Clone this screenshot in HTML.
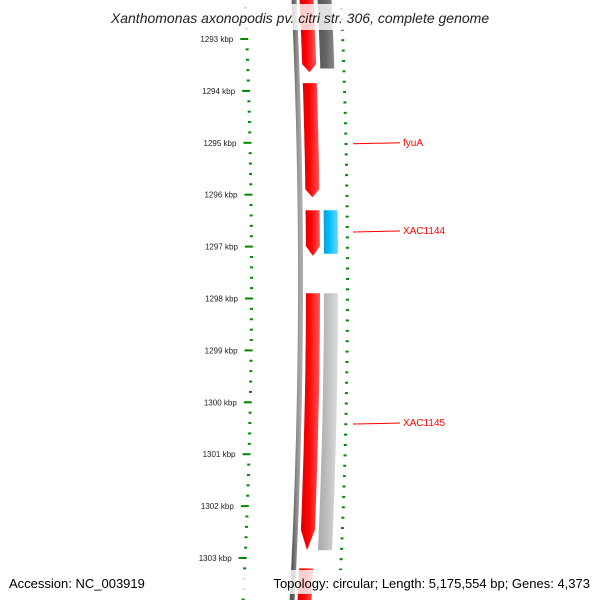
<!DOCTYPE html>
<html><head><meta charset="utf-8"><style>
html,body{margin:0;padding:0;background:#fff}
svg{display:block}
text{font-family:"Liberation Sans","DejaVu Sans",sans-serif}
</style></head><body>
<svg id="map" width="600" height="600" viewBox="0 0 600 600" xmlns="http://www.w3.org/2000/svg">
<defs>
<linearGradient id="gRed" x1="0" x2="1"><stop offset="0" stop-color="#d00"/><stop offset="0.4" stop-color="#f00"/><stop offset="1" stop-color="#ff5a5a"/></linearGradient>
<linearGradient id="gDark" x1="0" x2="1"><stop offset="0" stop-color="#555"/><stop offset="0.5" stop-color="#666"/><stop offset="1" stop-color="#888"/></linearGradient>
<linearGradient id="gLight" x1="0" x2="1"><stop offset="0" stop-color="#aaa"/><stop offset="0.5" stop-color="#c0c0c0"/><stop offset="1" stop-color="#ddd"/></linearGradient>
<linearGradient id="gBlue" x1="0" x2="1"><stop offset="0" stop-color="#0aa0d8"/><stop offset="0.4" stop-color="#00bfff"/><stop offset="1" stop-color="#66d8ff"/></linearGradient>
<linearGradient id="gBack" x1="0" x2="1"><stop offset="0" stop-color="#555"/><stop offset="0.5" stop-color="#888"/><stop offset="1" stop-color="#aaa"/></linearGradient>
</defs>
<g id="ticks"></g>
<path id="backbone" fill="none" stroke="url(#gBack)" stroke-width="5"/>
<g id="features"></g>
<g id="labels"></g>
<rect x="0" y="4" width="600" height="26" fill="#fff" fill-opacity="0.8"/>
<text x="300" y="23" text-anchor="middle" font-size="14" font-style="italic" fill="#222">Xanthomonas axonopodis pv. citri str. 306, complete genome</text>
<rect x="0" y="570" width="600" height="24" fill="#fff" fill-opacity="0.8"/>
<text x="9" y="588" font-size="13" fill="#000">Accession: NC_003919</text>
<text x="590" y="588" text-anchor="end" font-size="13" fill="#000">Topology: circular; Length: 5,175,554 bp; Genes: 4,373</text>
</svg>
<script>
const tickKbp=[1293,1294,1295,1296,1297,1298,1299,1300,1301,1302,1303];
const tickLabels=["1293 kbp","1294 kbp","1295 kbp","1296 kbp","1297 kbp","1298 kbp","1299 kbp","1300 kbp","1301 kbp","1302 kbp","1303 kbp"];
const featStart=[1292.2,1293.85,1296.3,1297.9,1303.2];
const featEnd=[1293.64,1296.05,1297.18,1302.85,1304.2];
const featStrandFwd=[1,1,1,1,1];
const revStart=[1292.2,1296.3,1297.9];
const revEnd=[1293.64,1297.18,1302.85];
const revColor=["url(#gDark)","url(#gBlue)","url(#gLight)"];
const labelNames=["fyuA","XAC1144","XAC1145"];
const labelKbp=[1295.0,1296.7,1300.4];

const NS="http://www.w3.org/2000/svg";
function yS(k){return 39+(k-1293)*51.9;}
function xOff(y){return -8.2e-5*(y-280)*(y-280);}
function mk(t,a,p){const e=document.createElementNS(NS,t);for(const k in a)e.setAttribute(k,a[k]);p.appendChild(e);return e;}
const T=document.getElementById('ticks');
// left ruler
for(let i=0;i<tickKbp.length;i++){
  const y=yS(tickKbp[i]);const x=253+xOff(y);
  const l=mk('line',{x1:x-8,x2:x,y1:y,y2:y,stroke:'#080',"stroke-width":2},T);
  
  
  const t=mk('text',{x:x-15,y:y+3,"text-anchor":"end","font-size":8,fill:'#222'},T);
  t.textContent=tickLabels[i];
  
  
}
for(let k=1292.2;k<1304.5;k+=0.2){
  const r=Math.round(k*5)/5; if(Math.abs(r-Math.round(r))<0.01) continue;
  const y=yS(r); if(y<0||y>600) continue;
  const x=253+xOff(y);
  const d=mk('rect',{x:x-3,y:y-1,width:3,height:2,fill:'#080'},T);
  
  
}
// right ruler
for(let k=1292.3;k<1304.5;k+=0.2){
  const r=Math.round(k*10)/10; const y=yS(r)-4; if(y<0||y>600) continue;
  const x=343+xOff(y)+3;
  const maj=Math.abs((r-0.0)-Math.round(r))<0.01;
  const d=mk('rect',{x:x,y:y-1,width:maj?10:3,height:2,fill:'#080'},T);
  
  
}
// backbone
let bp="";for(let y=0;y<=600;y+=10){bp+=(y?"L":"M")+(300.5+xOff(y))+" "+y;}
document.getElementById('backbone').setAttribute('d',bp);
const F=document.getElementById('features');
function feat(k0,k1,xl,w,fill,arrowDown,arrowUp,name){
  const y0=yS(k0),y1=yS(k1);const a=8;
  let L=[],R=[];
  const ys=Math.max(y0,-5),ye=Math.min(y1,605);
  const yb=arrowDown?ye-a:ye, yt=arrowUp?ys+a:ys;
  for(let y=yt;y<=yb;y+=(yb-yt)/20||1){L.push([xl+xOff(y),y]);R.push([xl+w+xOff(y),y]);}
  let pts=[];
  if(arrowUp)pts.push([xl+w/2+xOff(ys),ys]);
  pts=pts.concat(R);
  if(arrowDown)pts.push([xl+w/2+xOff(ye),ye]);
  pts=pts.concat(L.reverse());
  const p=mk('polygon',{points:pts.map(q=>q[0].toFixed(1)+","+q[1].toFixed(1)).join(" "),fill:fill},F);
  
  
}
for(let i=0;i<featStart.length;i++)feat(featStart[i],featEnd[i],306,14,"url(#gRed)",featEnd[i]<1303.5,false,'forward-gene');
for(let i=0;i<revStart.length;i++)feat(revStart[i],revEnd[i],324,14,revColor[i],false,false,'reverse-gene');
const Lg=document.getElementById('labels');
for(let i=0;i<labelNames.length;i++){
  const y=yS(labelKbp[i]);
  const l=mk('line',{x1:353,x2:400,y1:y+1,y2:y,stroke:'#f00',"stroke-width":1},Lg);
  
  
  const t=mk('text',{x:403,y:y+3,"font-size":10,fill:'#f00'},Lg);
  t.textContent=labelNames[i];
  
  
}
</script>
</body></html>
